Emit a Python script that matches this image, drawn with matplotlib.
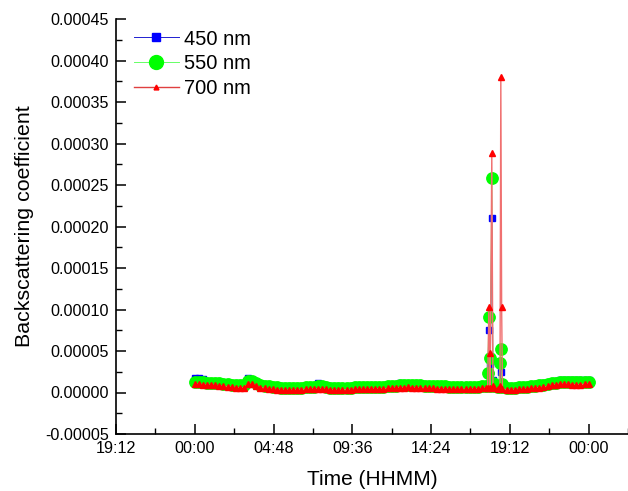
import numpy as np
import matplotlib
matplotlib.use("Agg")
import matplotlib.pyplot as plt
from matplotlib.ticker import AutoMinorLocator, FixedLocator

plt.rcParams['font.family'] = ['Liberation Sans', 'DejaVu Sans']

SCALE = 1e-5  # values below are in units of 1e-5

# baseline samples every 15 min from 00:00 to 24:00 (hours)
base_hours = np.arange(97) * 0.25

b550 = [1.3, 1.3, 1.25, 1.2, 1.2,
        1.15, 1.1, 1.05, 1.0,
        0.95, 0.9, 0.85, 0.9,
        1.4, 1.35, 1.1, 0.9,
        0.8, 0.75, 0.7, 0.65,
        0.6, 0.55, 0.55, 0.55,
        0.6, 0.6, 0.65, 0.65,
        0.7, 0.75, 0.75, 0.65,
        0.6, 0.55, 0.55, 0.6,
        0.6, 0.6, 0.65, 0.65,
        0.65, 0.65, 0.7, 0.7,
        0.7, 0.7, 0.75, 0.75,
        0.8, 0.85, 0.9, 0.95,
        0.9, 0.85, 0.85, 0.8,
        0.8, 0.8, 0.75, 0.75,
        0.75, 0.7, 0.7, 0.7,
        0.7, 0.65, 0.65, 0.7,
        0.7, 0.75, 0.8, 0.8,
        0.75, 0.7, 0.65, 0.6,
        0.6, 0.6, 0.65, 0.65,
        0.7, 0.75, 0.8, 0.85,
        0.9, 1.0, 1.1, 1.2,
        1.25, 1.3, 1.3, 1.25,
        1.25, 1.25, 1.3, 1.3]

b450 = [1.8, 1.8, 1.6, 1.4, 1.3,
        1.25, 1.2, 1.15, 1.1,
        1.05, 1.0, 0.95, 1.0,
        1.7, 1.5, 1.2, 1.0,
        0.9, 0.85, 0.8, 0.75,
        0.7, 0.65, 0.65, 0.65,
        0.7, 0.7, 0.75, 0.75,
        0.8, 1.2, 0.85, 0.75,
        0.7, 0.65, 0.65, 0.7,
        0.7, 0.7, 0.75, 0.75,
        0.75, 0.75, 0.8, 0.8,
        0.8, 0.8, 0.85, 0.85,
        0.9, 1.2, 1.0, 1.05,
        1.0, 0.95, 0.95, 0.9,
        0.9, 0.9, 0.85, 0.85,
        0.85, 0.8, 0.8, 0.8,
        0.8, 0.75, 0.75, 0.8,
        0.8, 0.85, 0.9, 0.9,
        0.85, 0.8, 0.75, 0.7,
        0.7, 0.7, 0.75, 0.75,
        0.8, 0.85, 0.9, 1.0,
        1.1, 1.2, 1.3, 1.4,
        1.45, 1.5, 1.5, 1.45,
        1.45, 1.45, 1.5, 1.5]

b700 = [1.0, 1.0, 0.95, 0.9, 0.9,
        0.85, 0.8, 0.75, 0.7,
        0.65, 0.6, 0.55, 0.6,
        1.0, 1.0, 0.8, 0.6,
        0.5, 0.45, 0.4, 0.35,
        0.3, 0.3, 0.3, 0.3,
        0.35, 0.35, 0.4, 0.4,
        0.45, 0.45, 0.45, 0.4,
        0.35, 0.3, 0.3, 0.35,
        0.35, 0.35, 0.4, 0.4,
        0.4, 0.4, 0.45, 0.45,
        0.45, 0.45, 0.5, 0.5,
        0.55, 0.6, 0.6, 0.65,
        0.6, 0.55, 0.55, 0.5,
        0.5, 0.5, 0.45, 0.45,
        0.45, 0.4, 0.4, 0.4,
        0.4, 0.4, 0.4, 0.45,
        0.45, 0.5, 0.55, 0.55,
        0.5, 0.45, 0.4, 0.35,
        0.35, 0.35, 0.4, 0.4,
        0.45, 0.5, 0.55, 0.6,
        0.65, 0.75, 0.85, 0.95,
        1.0, 1.0, 1.0, 0.95,
        0.95, 0.95, 1.0, 1.0]

# spike event samples (hours, values in 1e-5)
spike_hours = [17.85, 17.92, 17.97, 18.1, 18.17, 18.6, 18.65, 18.7]
s450 = [0.9, 7.5, 3.4, 21.0, 1.5, 0.9, 2.5, 1.0]
s550 = [2.3, 9.1, 4.2, 25.8, 1.2, 3.5, 5.3, 1.0]
s700 = [0.6, 10.3, 4.7, 28.8, 0.8, 0.8, 38.0, 10.3]

xtick_hours = [-4.8, 0, 4.8, 9.6, 14.4, 19.2, 24.0]
xtick_labels = ['19:12', '00:00', '04:48', '09:36', '14:24', '19:12', '00:00']
ytick_values = [-0.00005, 0.0, 0.00005, 0.0001, 0.00015, 0.0002, 0.00025,
                0.0003, 0.00035, 0.0004, 0.00045]


def merge(base, spikes):
    t = np.concatenate([base_hours, spike_hours])
    v = np.concatenate([base, spikes]) * SCALE
    order = np.argsort(t, kind='stable')
    return t[order], v[order]


fig = plt.figure(figsize=(6.28, 4.91), dpi=100)
ax = fig.add_axes([116 / 628, 1 - 434 / 491, 1 - 116 / 628, (434 - 19) / 491])

t, v = merge(b450, s450)
ax.plot(t, v, color='#2020d0', lw=0.7, marker='s', ms=5, mec='#0000ff',
        mfc='#0000ff', label='450 nm')
t, v = merge(b550, s550)
ax.plot(t, v, color='#66ff66', lw=0.7, marker='o', ms=8.2, mec='#00ff00',
        mfc='#00ff00', label='550 nm')
t, v = merge(b700, s700)
ax.plot(t, v, color='#f07070', lw=1.0, marker='^', ms=4.2, mec='#ff0000',
        mfc='#ff0000', label='700 nm')

ax.set_xlim(-4.8, 26.4)
ax.set_ylim(-0.00005, 0.00045)
ax.xaxis.set_major_locator(FixedLocator(xtick_hours))
ax.set_xticklabels(xtick_labels)
ax.xaxis.set_minor_locator(AutoMinorLocator(2))
ax.yaxis.set_major_locator(FixedLocator(ytick_values))
ax.set_yticklabels(['%.5f' % y for y in ytick_values])
ax.yaxis.set_minor_locator(AutoMinorLocator(2))

for s in ['top', 'right']:
    ax.spines[s].set_visible(False)
for s in ['left', 'bottom']:
    ax.spines[s].set_linewidth(1.2)

ax.tick_params(which='major', direction='in', length=7, width=1.1,
               labelsize=11.6, pad=5)
ax.tick_params(which='minor', direction='in', length=4, width=1.0)

ax.set_xlabel('Time (HHMM)', fontsize=15, labelpad=10)
ax.set_ylabel('Backscattering coefficient', fontsize=15.4, labelpad=8)

leg = ax.legend(loc='upper left', bbox_to_anchor=(0.02, 0.994), frameon=False,
                fontsize=14.5, handlelength=2.2, labelspacing=0.28,
                handletextpad=0.25, borderaxespad=0.0)
leg.legend_handles[0].set_markersize(6)
leg.legend_handles[1].set_markersize(10)
leg.legend_handles[2].set_markersize(3.5)
leg.legend_handles[2].set_color('#e04040')

fig.savefig('out.png', dpi=100)
